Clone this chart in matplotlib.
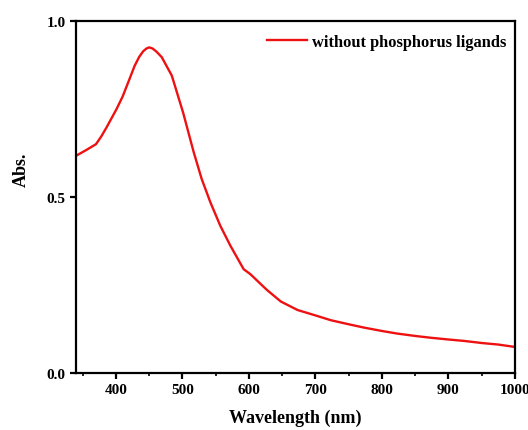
import matplotlib
matplotlib.use("Agg")
import matplotlib.pyplot as plt
from matplotlib.ticker import MultipleLocator, FormatStrFormatter

wavelength = [340, 355, 370, 378, 386, 401, 410, 420, 428, 435, 441, 446, 450, 455, 461, 469, 484,
              501, 517, 529, 542, 557, 572, 592, 602, 627, 648, 673, 701, 723, 751,
              773, 801, 823, 851, 874, 901, 924, 951, 974, 1000]
absorbance = [0.617, 0.633, 0.650, 0.672, 0.698, 0.750, 0.785, 0.833, 0.872, 0.898, 0.914, 0.922, 0.925,
              0.922, 0.913, 0.897, 0.845, 0.740, 0.627, 0.551, 0.485, 0.418, 0.362, 0.295, 0.281, 0.236,
              0.203, 0.179, 0.163, 0.150, 0.138, 0.129, 0.119, 0.112, 0.105, 0.100,
              0.095, 0.091, 0.085, 0.081, 0.074]
series_label = "without phosphorus ligands"

plt.rcParams['font.family'] = ['Liberation Serif', 'DejaVu Serif']
plt.rcParams['font.weight'] = 'bold'

fig = plt.figure(figsize=(5.28, 4.31), dpi=100)
ax = fig.add_axes([76/528, 1 - 374/431, (515 - 76)/528, (374 - 22)/431])

ax.plot(wavelength, absorbance, color='#ee1111', lw=1.7, label=series_label)
ax.set_xlim(340, 1000)
ax.set_ylim(0, 1.0)
ax.xaxis.set_major_locator(MultipleLocator(100))
ax.xaxis.set_minor_locator(MultipleLocator(50))
ax.yaxis.set_major_locator(MultipleLocator(0.5))
ax.yaxis.set_major_formatter(FormatStrFormatter('%.1f'))

for s in ax.spines.values():
    s.set_linewidth(1.6)
ax.tick_params(axis='both', which='major', direction='out', length=4.5, width=1.6,
               labelsize=11, pad=3, top=False, right=False)
ax.tick_params(axis='x', which='minor', direction='out', length=2.5, width=1.2)
for lab in ax.get_xticklabels() + ax.get_yticklabels():
    lab.set_fontweight('bold')

ax.set_xlabel("Wavelength (nm)", fontsize=13, fontweight='bold', labelpad=9)
ax.set_ylabel("Abs.", fontsize=13, fontweight='bold')
ax.yaxis.set_label_coords(-0.105, 0.58)

leg = ax.legend(loc='center right', bbox_to_anchor=(0.9795, 0.940), frameon=False,
                fontsize=11.8, handlelength=2.4, handletextpad=0.3, borderpad=0,
                borderaxespad=0)
for t in leg.get_texts():
    t.set_fontweight('bold')

fig.savefig("out.png", dpi=100)
